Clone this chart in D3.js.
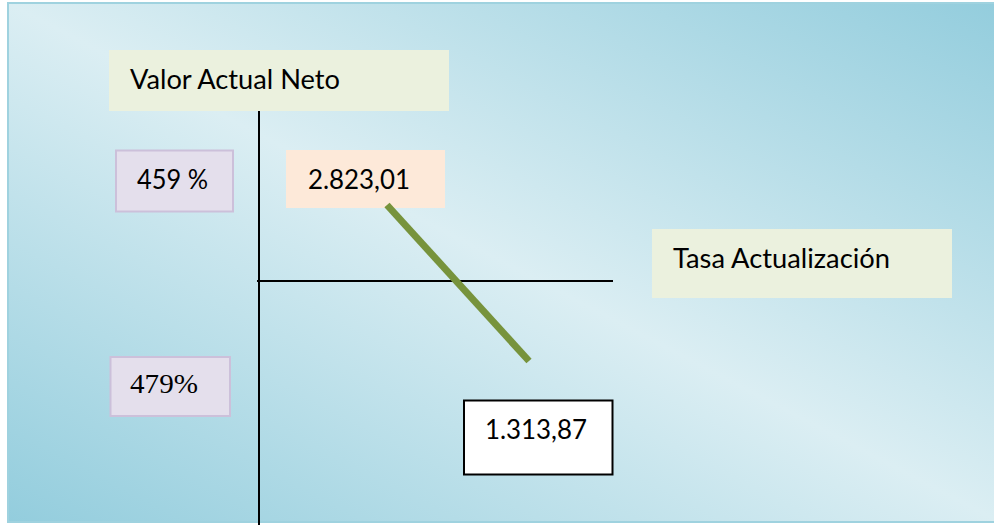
<!DOCTYPE html>
<html>
<head>
<meta charset="utf-8">
<script src="https://cdn.jsdelivr.net/npm/d3@7"></script>
<style>
  html, body { margin: 0; padding: 0; background: #ffffff; }
  svg { display: block; }
</style>
</head>
<body>
<script>
// ---- data ----
const rateLabels = ["459 %", "479%"];          // discount rates (left labels)
const vanValues = [2823.01, -1313.87];          // NPV at each rate
const vanLabels = ["2.823,01", "1.313,87"];     // NPV value labels
const axisTitles = ["Valor Actual Neto", "Tasa Actualización"];

const W = 994, H = 525;
const svg = d3.select("body").append("svg").attr("width", W).attr("height", H);
const defs = svg.append("defs");

// background gradient
const grad = defs.append("linearGradient").attr("id", "bg")
  .attr("x1", 1).attr("y1", 0).attr("x2", 0).attr("y2", 1);
grad.append("stop").attr("offset", 0).attr("stop-color", "#93cddd");
grad.append("stop").attr("offset", 0.5).attr("stop-color", "#dbeef3");
grad.append("stop").attr("offset", 1).attr("stop-color", "#93cddd");

svg.append("rect").attr("x", 8).attr("y", 3).attr("width", 992).attr("height", 519)
  .attr("fill", "url(#bg)").attr("stroke", "#9fd2df").attr("stroke-width", 2);

const calibri = "Lato, 'Open Sans', sans-serif";
const serif = "'Liberation Serif', 'Times New Roman', serif";

function box(x, y, w, h, fill, stroke, sw) {
  svg.append("rect").attr("x", x).attr("y", y).attr("width", w).attr("height", h)
    .attr("fill", fill).attr("stroke", stroke || "none").attr("stroke-width", sw || 0);
}
function label(txt, x, y, len, font, size) {
  svg.append("text").attr("x", x).attr("y", y)
    .style("font-family", font).style("font-size", size + "px").attr("fill", "#000")
    .attr("textLength", len).attr("lengthAdjust", "spacingAndGlyphs")
    .text(txt);
}

// Axis title boxes
box(109, 50, 340, 61, "#ebf1de");
label(axisTitles[0], 130, 89, 210, calibri, 26);
box(652, 229, 300, 69, "#ebf1de");
label(axisTitles[1], 673, 268, 217, calibri, 26);

// Axes lines
svg.append("line").attr("x1", 259).attr("x2", 259).attr("y1", 111).attr("y2", 525)
  .attr("stroke", "#000").attr("stroke-width", 2);
svg.append("line").attr("x1", 257).attr("x2", 613).attr("y1", 281).attr("y2", 281)
  .attr("stroke", "#000").attr("stroke-width", 2);

// Rate labels
box(116, 150.5, 117, 61, "#e4dfec", "#ccc0da", 2);
label(rateLabels[0], 137, 189, 71, calibri, 26);
box(110.5, 357, 119.5, 59, "#e4dfec", "#ccc0da", 2);
label(rateLabels[1], 130, 393, 68, serif, 27);

// NPV value labels
box(286, 150, 159, 58, "#fde9d9");
label(vanLabels[0], 308, 189, 102, calibri, 26);
box(464, 400.5, 148.5, 74, "#ffffff", "#000000", 2);
label(vanLabels[1], 485, 439, 102, calibri, 26);

// NPV line
const x = d3.scalePoint().domain(rateLabels).range([387, 529]);
const y = d3.scaleLinear().domain([d3.min(vanValues), d3.max(vanValues)]).range([361, 205]);
const pts = rateLabels.map((r, i) => ({ r, v: vanValues[i] }));
svg.append("path").datum(pts)
  .attr("d", d3.line().x(d => x(d.r)).y(d => y(d.v)))
  .attr("fill", "none").attr("stroke", "#77933c").attr("stroke-width", 7);
</script>
</body>
</html>
